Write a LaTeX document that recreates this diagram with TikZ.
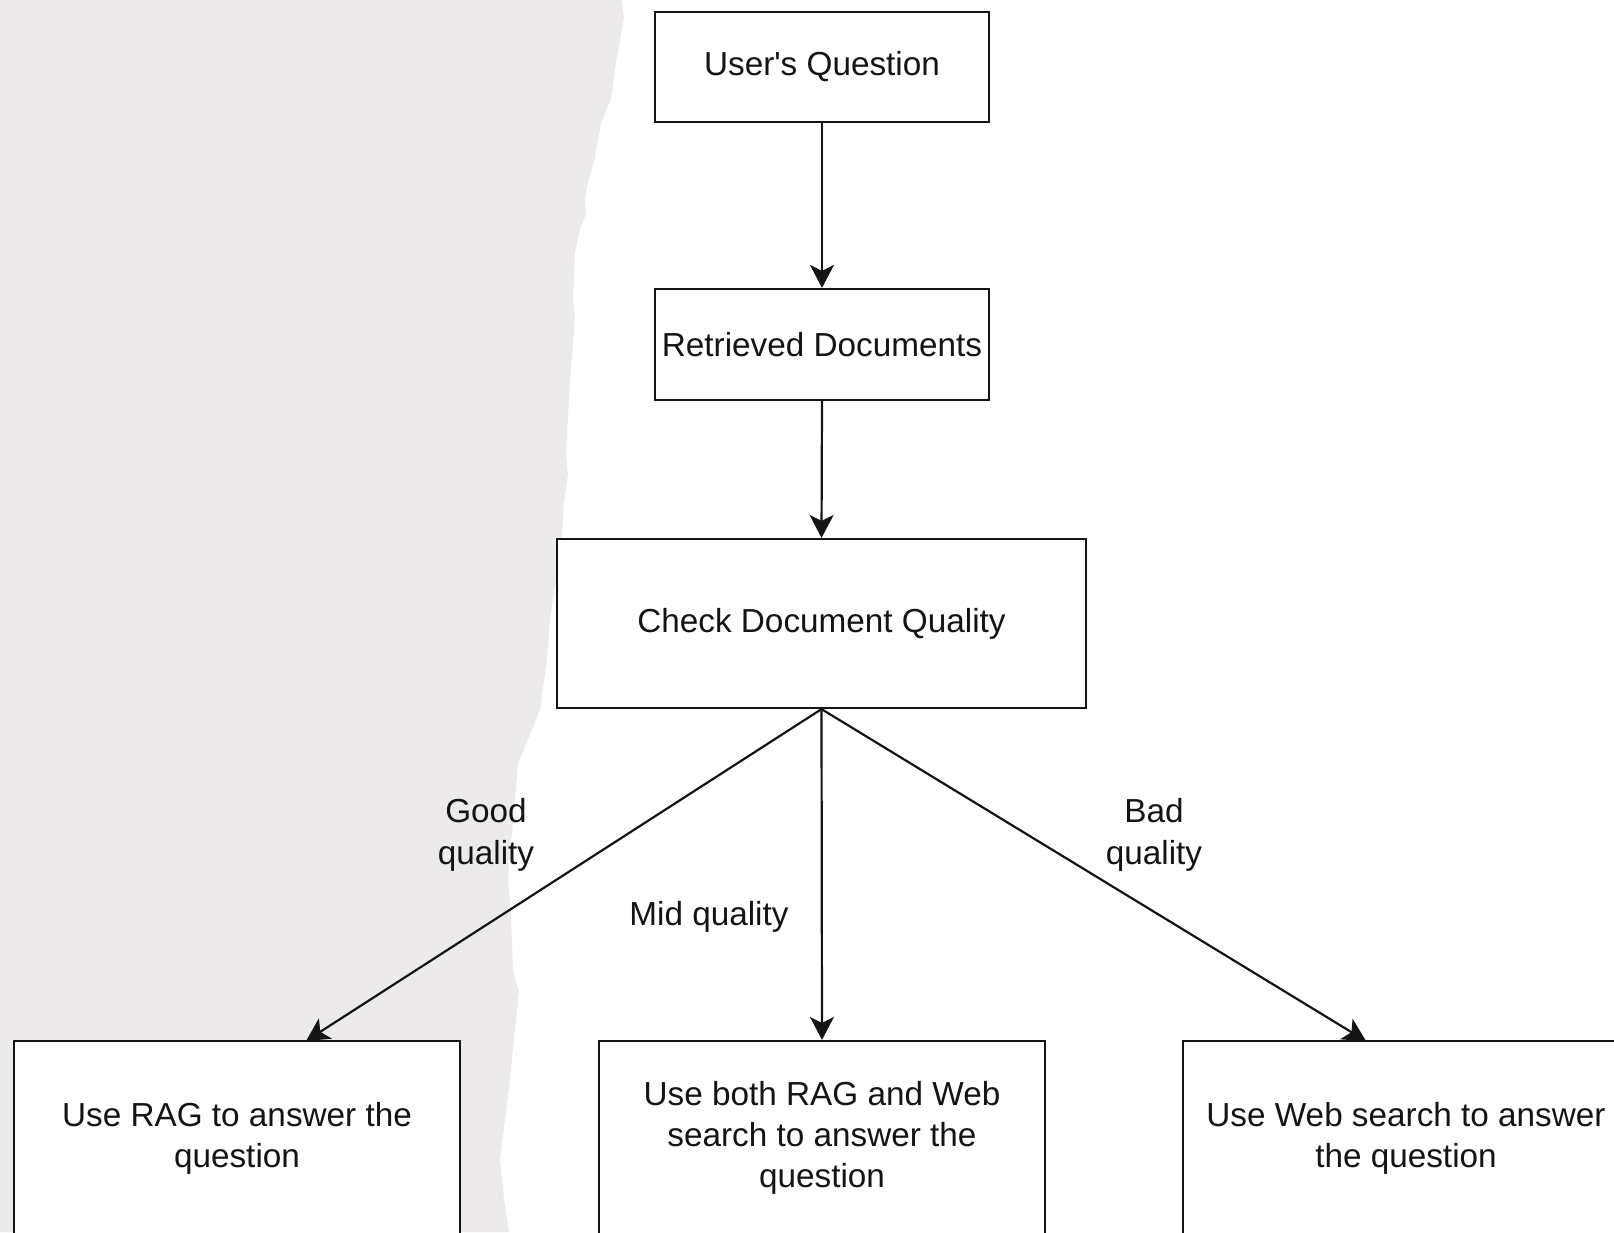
\documentclass[tikz,border=0pt]{standalone}
\usepackage{fontspec}
\setmainfont{Liberation Sans}[Ligatures=TeXOff]
\usetikzlibrary{arrows.meta}
\definecolor{paper}{RGB}{236,235,233}
\definecolor{ink}{RGB}{20,20,20}
\tikzset{
  box/.style={draw=ink, line width=2.2pt, fill=white, rectangle, align=center,
    font=\fontsize{33.3}{41}\selectfont, text=ink, inner sep=0pt},
  lbl/.style={align=center, font=\fontsize{33.3}{42}\selectfont, text=ink, inner sep=0pt},
  conn/.style={draw=ink, line width=2.2pt, -{Stealth[length=23pt, width=24pt, inset=6pt]}}
}
\begin{document}
\begin{tikzpicture}[x=1pt,y=-1pt]
\useasboundingbox (0,0) rectangle (1614,1232);
\clip (0,0) rectangle (1614,1232);
\fill[paper] (0,0) -- (622,0) -- (624,18) -- (616,63) -- (611,99) -- (601,123) -- (594,162)
  -- (588,182) -- (585,198) -- (586,214) -- (580,229) -- (575,253) -- (573,300) -- (575,316)
  -- (572,356) -- (570,380) -- (567,435) -- (566,455) -- (568,474) -- (564,502) -- (562,538)
  -- (550,620) -- (547,659) -- (540,710) -- (518,764) -- (508,878) -- (511,917) -- (513,971)
  -- (519,991) -- (513,1049) -- (509,1088) -- (500,1159) -- (504,1198) -- (509,1232)
  -- (0,1232) -- cycle;

\node[box, minimum width=334pt, minimum height=110pt] (uq) at (822,67) {User's Question};
\node[box, minimum width=334pt, minimum height=111pt] (rd) at (822,344.5) {Retrieved Documents};
\node[box, minimum width=529pt, minimum height=169pt] (cq) at (821.5,623.5) {Check Document Quality};
\node[box, minimum width=446pt, minimum height=194pt] (rag) at (237,1138) {Use RAG to answer the\\question};
\node[box, minimum width=446pt, minimum height=194pt] (both) at (822,1138) {Use both RAG and Web\\search to answer the\\question};
\node[box, minimum width=446pt, minimum height=194pt] (web) at (1406,1138) {Use Web search to answer\\the question};

\coordinate (ragin) at (306,1041);
\coordinate (webin) at (1366,1041);

\draw[conn] (uq.south) -- (rd.north);
\draw[conn] (rd.south) -- (cq.north);
\draw[conn] (cq.south) -- (ragin);
\draw[conn] (cq.south) -- (both.north);
\draw[conn] (cq.south) -- (webin);

\node[lbl] (good) at (486,835) {Good\\quality};
\node[lbl] (mid) at (709,917) {Mid quality};
\node[lbl] (bad) at (1154,835) {Bad\\quality};
\end{tikzpicture}
\end{document}
